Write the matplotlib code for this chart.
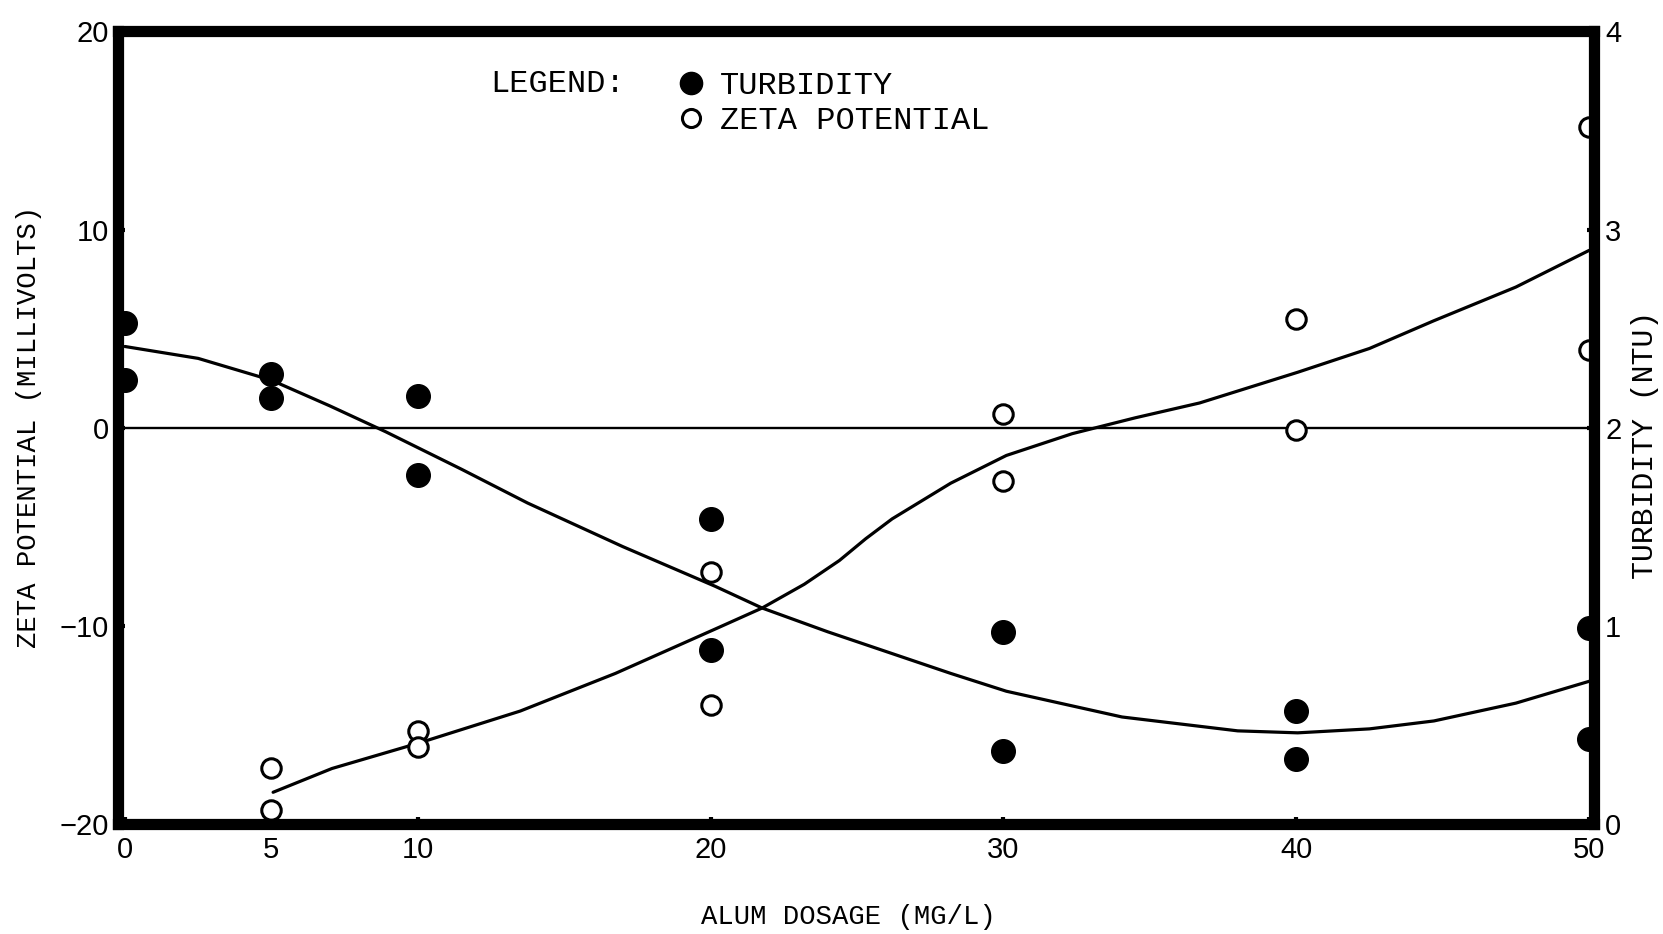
import numpy as np
import matplotlib
matplotlib.use('Agg')
from matplotlib import pyplot as plt

# alum dosage (mg/l) for the measured points
dose = [0, 0, 5, 5, 10, 10, 20, 20, 30, 30, 40, 40, 50, 50]
turb = [2.53, 2.24, 2.27, 2.15, 2.16, 1.76, 1.54, 0.88, 0.97, 0.37, 0.57, 0.33, 0.99, 0.43]
zeta_dose = [5, 5, 10, 10, 20, 20, 30, 30, 40, 40, 50, 50]
zeta = [-17.2, -19.3, -15.3, -16.1, -7.3, -14.0, 0.7, -2.7, 5.5, -0.1, 15.2, 3.9]

# hand drawn fit lines
zfit_x = [5.06, 7.07, 10.07, 13.5, 16.75, 20.25, 21.76, 23.2, 24.4, 25.3, 26.2, 28.2, 30.1, 32.35, 34.5, 36.7, 40.05, 42.5, 44.7, 47.5, 50]
zfit_y = [-18.4, -17.2, -15.9, -14.3, -12.4, -10.1, -9.1, -7.9, -6.7, -5.6, -4.6, -2.8, -1.4, -0.3, 0.5, 1.25, 2.8, 4.0, 5.4, 7.1, 8.95]
tfit_x = [0, 2.5, 5, 7.0, 8.9, 11.5, 13.75, 17, 20.15, 21.76, 24.0, 26.2, 28.2, 30.1, 34.05, 38, 40.05, 42.5, 44.7, 47.5, 50]
tfit_y = [2.41, 2.35, 2.24, 2.11, 1.98, 1.79, 1.62, 1.40, 1.20, 1.09, 0.97, 0.86, 0.76, 0.67, 0.54, 0.47, 0.46, 0.48, 0.52, 0.61, 0.72]

xticks = [0, 5, 10, 20, 30, 40, 50]
zticks = [-20, -10, 0, 10, 20]
tticks = [0, 1, 2, 3, 4]

typewriter = ['Liberation Mono', 'DejaVu Sans Mono']
numfont = ['Liberation Sans Narrow', 'Liberation Sans', 'DejaVu Sans']

fig = plt.figure(figsize=(16.63, 9.34), dpi=100)
ax = fig.add_axes([0.07125, 0.1178, 0.8873, 0.8485])
ax2 = ax.twinx()

ax.axhline(0, color='black', lw=1.7, zorder=1)
ax.plot(zfit_x, zfit_y, color='black', lw=2.3, solid_capstyle='round', solid_joinstyle='round')
ax.plot(zeta_dose, zeta, 'o', ls='none', mfc='white', mec='black', ms=14, mew=2.2,
        label='ZETA POTENTIAL')
ax2.plot(tfit_x, tfit_y, color='black', lw=2.3, solid_capstyle='round', solid_joinstyle='round')
ax2.plot(dose, turb, 'o', ls='none', color='black', ms=17, label='TURBIDITY')

ax.set_xlim(-0.22, 50.17)
ax.set_ylim(-20, 20)
ax2.set_ylim(0, 4)
ax.set_xticks(xticks)
ax.set_yticks(zticks)
ax2.set_yticks(tticks)

for a in (ax, ax2):
    for s in a.spines.values():
        s.set_linewidth(8)
ax.tick_params(axis='both', direction='in', length=5, width=3, labelsize=21)
ax.tick_params(axis='x', pad=9)
ax.tick_params(axis='y', pad=7)
ax2.tick_params(axis='y', direction='in', length=5, width=3, labelsize=21, pad=8)
for lab in ax.get_xticklabels() + ax.get_yticklabels() + ax2.get_yticklabels():
    lab.set_family(numfont)

fig.text(29 / 1663, 1 - 427 / 934, 'ZETA POTENTIAL (MILLIVOLTS)', rotation=90,
         ha='center', va='center', fontsize=19.6, family=typewriter)
fig.text(1645 / 1663, 1 - 445 / 934, 'TURBIDITY (NTU)', rotation=90,
         ha='center', va='center', fontsize=21.5, family=typewriter)
fig.text(848 / 1663, 1 - 917 / 934, 'ALUM DOSAGE (MG/L)',
         ha='center', va='center', fontsize=19.6, family=typewriter)

fig.text(490 / 1663, 1 - 84 / 934, 'LEGEND:', ha='left', va='center',
         fontsize=23, family=typewriter)
h1, l1 = ax2.get_legend_handles_labels()
h2, l2 = ax.get_legend_handles_labels()
leg = ax2.legend(h1 + h2, l1 + l2, loc='upper left',
                 bbox_to_anchor=(661 / 1663, 1 - 55 / 934), bbox_transform=fig.transFigure,
                 frameon=False, handlelength=0.85, handletextpad=0.5, labelspacing=0.17,
                 borderpad=0, prop={'family': typewriter, 'size': 23})
leg.legend_handles[0].set_markersize(16)
leg.legend_handles[1].set_markersize(13)

plt.savefig('out.png', dpi=100)
plt.close()
